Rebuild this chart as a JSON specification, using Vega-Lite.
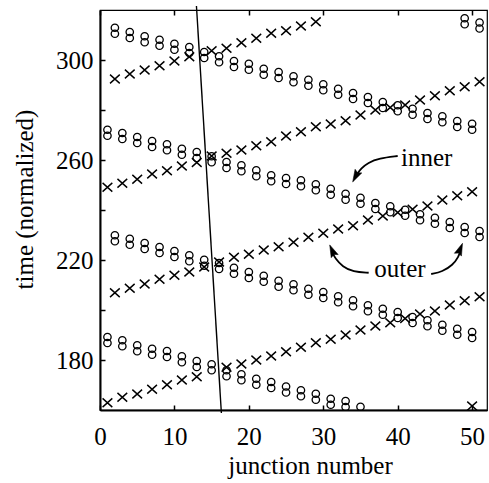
{
  "$schema": "https://vega.github.io/schema/vega-lite/v6.json",
  "width": 387,
  "height": 400,
  "autosize": {"type": "none"},
  "padding": {"left": 100, "top": 10, "right": 2, "bottom": 73},
  "background": "white",
  "config": {
    "view": {"stroke": "black", "strokeWidth": 1.2},
    "font": "Liberation Serif",
    "axis": {
      "labelFont": "Liberation Serif", "titleFont": "Liberation Serif",
      "labelFontSize": 25, "titleFontSize": 25, "titleFontWeight": "normal",
      "labelColor": "black", "titleColor": "black", "domainColor": "black", "tickColor": "black",
      "grid": false, "labelFlush": false, "labelOverlap": false
    }
  },
  "datasets": {
    "crosses": [
      {"x":1,"y":162.9},{"x":3,"y":165.1},{"x":5,"y":166.4},{"x":7,"y":168.3},{"x":9,"y":170.1},{"x":11,"y":172},{"x":13,"y":173.3},{"x":17,"y":177.1},{"x":19,"y":178.4},{"x":21,"y":180},{"x":23,"y":181.6},{"x":25,"y":183.3},{"x":27,"y":185.1},{"x":29,"y":186.9},{"x":31,"y":188.3},{"x":33,"y":190},{"x":35,"y":192},{"x":37,"y":193.6},{"x":39,"y":194.9},{"x":41,"y":196.6},{"x":43,"y":198.4},{"x":45,"y":199.6},{"x":47,"y":202},{"x":49,"y":203.7},{"x":51,"y":205.3},
      {"x":50,"y":161.6},
      {"x":2,"y":206.9},{"x":4,"y":208.7},{"x":6,"y":210.4},{"x":8,"y":212.3},{"x":10,"y":213.9},{"x":12,"y":215.2},{"x":14,"y":217.2},{"x":16,"y":219.2},{"x":18,"y":221.1},{"x":20,"y":222.3},{"x":22,"y":224},{"x":24,"y":225.3},{"x":26,"y":227.1},{"x":28,"y":229.1},{"x":30,"y":230.7},{"x":32,"y":232.4},{"x":34,"y":233.7},{"x":36,"y":236},{"x":38,"y":237.6},{"x":40,"y":239},{"x":42,"y":240.3},{"x":44,"y":241.6},{"x":46,"y":244},{"x":48,"y":245.7},{"x":50,"y":247.3},
      {"x":1,"y":249.1},{"x":3,"y":250.7},{"x":5,"y":252.3},{"x":7,"y":254.4},{"x":9,"y":255.7},{"x":11,"y":257.6},{"x":13,"y":259},{"x":15,"y":261.6},{"x":17,"y":262.7},{"x":19,"y":264},{"x":21,"y":265.7},{"x":23,"y":267.3},{"x":25,"y":269.6},{"x":27,"y":271.3},{"x":29,"y":273.3},{"x":31,"y":274.4},{"x":33,"y":275.7},{"x":35,"y":278},{"x":37,"y":280},{"x":39,"y":281},{"x":41,"y":282},{"x":43,"y":284},{"x":45,"y":285.7},{"x":47,"y":287.7},{"x":49,"y":289.3},{"x":51,"y":291.3},
      {"x":2,"y":292.4},{"x":4,"y":294.4},{"x":6,"y":296},{"x":8,"y":297.7},{"x":10,"y":299.6},{"x":12,"y":301.3},{"x":15,"y":303.7},{"x":17,"y":304.7},{"x":19,"y":306.9},{"x":21,"y":308.7},{"x":23,"y":310.7},{"x":25,"y":311.7},{"x":27,"y":313.6},{"x":29,"y":315.3}
    ],
    "circles": [
      {"x":2,"hi":312.9,"lo":310.5},{"x":4,"hi":311.2,"lo":308.8},{"x":6,"hi":309.5,"lo":307.1},{"x":8,"hi":308.1,"lo":305.7},{"x":10,"hi":306.5,"lo":304.1},{"x":12,"hi":305.2,"lo":302.8},{"x":14,"hi":303.2,"lo":300.8},{"x":16,"hi":301.5,"lo":299.1},{"x":18,"hi":299.6,"lo":297.2},{"x":20,"hi":298.5,"lo":296.1},{"x":22,"hi":296.5,"lo":294.1},{"x":24,"hi":295.2,"lo":292.8},{"x":26,"hi":293.5,"lo":291.1},{"x":28,"hi":292.1,"lo":289.7},{"x":30,"hi":290.3,"lo":287.9},{"x":32,"hi":288.5,"lo":286.1},{"x":34,"hi":286.8,"lo":284.4},{"x":36,"hi":285.2,"lo":282.8},{"x":38,"hi":283.2,"lo":280.8},{"x":40,"hi":281.9,"lo":279.5},{"x":42,"hi":280.5,"lo":278.1},{"x":44,"hi":278.8,"lo":276.4},{"x":46,"hi":277.5,"lo":275.1},{"x":48,"hi":275.6,"lo":273.2},{"x":50,"hi":274.5,"lo":272.1},
      {"x":49,"hi":316.7,"lo":314.3},{"x":51,"hi":315.0,"lo":312.6},
      {"x":1,"hi":272.1,"lo":269.7},{"x":3,"hi":270.8,"lo":268.4},{"x":5,"hi":269.2,"lo":266.8},{"x":7,"hi":267.6,"lo":265.2},{"x":9,"hi":266.3,"lo":263.9},{"x":11,"hi":264.5,"lo":262.1},{"x":13,"hi":263.2,"lo":260.8},{"x":15,"hi":261.5,"lo":259.1},{"x":17,"hi":259.2,"lo":256.8},{"x":19,"hi":257.9,"lo":255.5},{"x":21,"hi":255.9,"lo":253.5},{"x":23,"hi":253.9,"lo":251.5},{"x":25,"hi":252.8,"lo":250.4},{"x":27,"hi":251.9,"lo":249.5},{"x":29,"hi":250.3,"lo":247.9},{"x":31,"hi":248.5,"lo":246.1},{"x":33,"hi":246.5,"lo":244.1},{"x":35,"hi":244.9,"lo":242.5},{"x":37,"hi":242.8,"lo":240.4},{"x":39,"hi":241.5,"lo":239.1},{"x":41,"hi":240.1,"lo":237.7},{"x":43,"hi":238.3,"lo":235.9},{"x":45,"hi":236.9,"lo":234.5},{"x":47,"hi":235.2,"lo":232.8},{"x":49,"hi":233.2,"lo":230.8},{"x":51,"hi":231.6,"lo":229.2},
      {"x":2,"hi":229.9,"lo":227.5},{"x":4,"hi":228.5,"lo":226.1},{"x":6,"hi":226.8,"lo":224.4},{"x":8,"hi":225.2,"lo":222.8},{"x":10,"hi":223.6,"lo":221.2},{"x":12,"hi":221.9,"lo":219.5},{"x":14,"hi":220.1,"lo":217.7},{"x":16,"hi":218.8,"lo":216.4},{"x":18,"hi":216.9,"lo":214.5},{"x":20,"hi":215.2,"lo":212.8},{"x":22,"hi":213.7,"lo":211.3},{"x":24,"hi":211.7,"lo":209.3},{"x":26,"hi":210.3,"lo":207.9},{"x":28,"hi":208.5,"lo":206.1},{"x":30,"hi":207.2,"lo":204.8},{"x":32,"hi":205.5,"lo":203.1},{"x":34,"hi":203.9,"lo":201.5},{"x":36,"hi":201.9,"lo":199.5},{"x":38,"hi":200.5,"lo":198.1},{"x":40,"hi":199.2,"lo":196.8},{"x":42,"hi":197.2,"lo":194.8},{"x":44,"hi":195.9,"lo":193.5},{"x":46,"hi":194.1,"lo":191.7},{"x":48,"hi":192.5,"lo":190.1},{"x":50,"hi":191.2,"lo":188.8},
      {"x":1,"hi":189.2,"lo":186.8},{"x":3,"hi":187.9,"lo":185.5},{"x":5,"hi":185.9,"lo":183.5},{"x":7,"hi":184.5,"lo":182.1},{"x":9,"hi":183.6,"lo":181.2},{"x":11,"hi":181.5,"lo":179.1},{"x":13,"hi":179.6,"lo":177.2},{"x":15,"hi":178.3,"lo":175.9},{"x":17,"hi":175.9,"lo":173.5},{"x":19,"hi":174.3,"lo":171.9},{"x":21,"hi":172.5,"lo":170.1},{"x":23,"hi":171.2,"lo":168.8},{"x":25,"hi":169.4,"lo":167.0},{"x":27,"hi":167.9,"lo":165.5},{"x":29,"hi":166.5,"lo":164.1},{"x":31,"hi":164.5,"lo":162.1},{"x":33,"hi":163.6,"lo":161.2},{"x":35,"hi":161.3}
    ],
    "cut": [{"x":12.96,"y":321.6},{"x":16.31,"y":158.8}],
    "arrows": [
      {"arrow":"inner","o":1,"x":40.0,"y":261.6},{"arrow":"inner","o":2,"x":37.5,"y":260.7},{"arrow":"inner","o":3,"x":36.0,"y":258.9},{"arrow":"inner","o":4,"x":35.1,"y":256.7},{"arrow":"inner","o":5,"x":34.5,"y":254.2},
      {"arrow":"outerL","o":1,"x":36.1,"y":214.9},{"arrow":"outerL","o":2,"x":34.0,"y":215.3},{"arrow":"outerL","o":3,"x":32.6,"y":217.3},{"arrow":"outerL","o":4,"x":31.6,"y":220.7},{"arrow":"outerL","o":5,"x":31.2,"y":223.0},
      {"arrow":"outerR","o":1,"x":44.5,"y":214.4},{"arrow":"outerR","o":2,"x":46.0,"y":215.3},{"arrow":"outerR","o":3,"x":47.4,"y":218.0},{"arrow":"outerR","o":4,"x":48.2,"y":221.3},{"arrow":"outerR","o":5,"x":48.4,"y":223.6}
    ],
    "heads": [
      {"x":34.34,"y":253.4,"angle":208},
      {"x":31.2,"y":223.8,"angle":336},
      {"x":48.4,"y":224.4,"angle":22}
    ],
    "labels": [
      {"x":43.9,"y":257.6,"text":"inner"},
      {"x":40.3,"y":213.3,"text":"outer"}
    ]
  },
  "resolve": {"axis": {"x": "independent"}},
  "layer": [
    {
      "data": {"name": "crosses"},
      "mark": {"type": "point", "shape": "M-1,-0.9L1,0.9M-1,0.9L1,-0.9", "size": 95, "filled": false, "stroke": "black", "strokeWidth": 1.4, "opacity": 1, "clip": true},
      "encoding": {
        "x": {"field": "x", "type": "quantitative", "scale": {"domain": [0, 52], "nice": false, "zero": false},
          "axis": {"orient": "bottom", "values": [0, 10, 20, 30, 40, 50], "tickSize": -5, "tickWidth": 1.5, "domainWidth": 2, "labelPadding": 19, "title": "junction number", "titleX": 210, "titleY": 63, "titleBaseline": "alphabetic", "titleAlign": "center"}},
        "y": {"field": "y", "type": "quantitative", "scale": {"domain": [160, 320], "nice": false, "zero": false},
          "axis": {"orient": "left", "values": [180, 200, 220, 240, 260, 280, 300], "labelExpr": "datum.value % 40 == 20 ? datum.label : ''", "tickSize": -5, "tickWidth": 1.5, "domainWidth": 2, "labelPadding": 12, "title": "time (normalized)", "titleX": -76, "titleY": 189, "titleAngle": -90, "titleBaseline": "middle", "titleAlign": "center"}}
      }
    },
    {
      "data": {"name": "circles"},
      "transform": [{"fold": ["hi", "lo"], "as": ["k", "y"]}, {"filter": "datum.y != null"}],
      "mark": {"type": "point", "shape": "circle", "size": 55, "filled": false, "stroke": "black", "strokeWidth": 1.3, "opacity": 1, "clip": true},
      "encoding": {
        "x": {"field": "x", "type": "quantitative", "axis": null},
        "y": {"field": "y", "type": "quantitative", "title": "time (normalized)"}
      }
    },
    {
      "data": {"name": "cut"},
      "mark": {"type": "line", "stroke": "black", "strokeWidth": 1.4, "clip": false},
      "encoding": {
        "x": {"field": "x", "type": "quantitative",
          "axis": {"orient": "top", "values": [0, 10, 20, 30, 40, 50], "labels": false, "domain": false, "tickSize": -5, "tickWidth": 1.5, "title": null}},
        "y": {"field": "y", "type": "quantitative", "title": "time (normalized)"}
      }
    },
    {
      "data": {"name": "arrows"},
      "mark": {"type": "line", "stroke": "black", "strokeWidth": 1.8, "interpolate": "basis"},
      "encoding": {
        "x": {"field": "x", "type": "quantitative", "axis": null},
        "y": {"field": "y", "type": "quantitative", "title": "time (normalized)"},
        "detail": {"field": "arrow"},
        "order": {"field": "o", "type": "quantitative"}
      }
    },
    {
      "data": {"name": "heads"},
      "mark": {"type": "point", "shape": "M0,-1L0.62,1L0,0.7L-0.62,1Z", "size": 150, "filled": true, "fill": "black", "stroke": "black", "strokeWidth": 0.5, "opacity": 1},
      "encoding": {
        "x": {"field": "x", "type": "quantitative", "axis": null},
        "y": {"field": "y", "type": "quantitative", "title": "time (normalized)"},
        "angle": {"field": "angle", "type": "quantitative", "scale": null}
      }
    },
    {
      "data": {"name": "labels"},
      "mark": {"type": "text", "font": "Liberation Serif", "fontSize": 25, "align": "center", "baseline": "alphabetic", "color": "black"},
      "encoding": {
        "x": {"field": "x", "type": "quantitative", "axis": null},
        "y": {"field": "y", "type": "quantitative", "title": "time (normalized)"},
        "text": {"field": "text"}
      }
    }
  ]
}
